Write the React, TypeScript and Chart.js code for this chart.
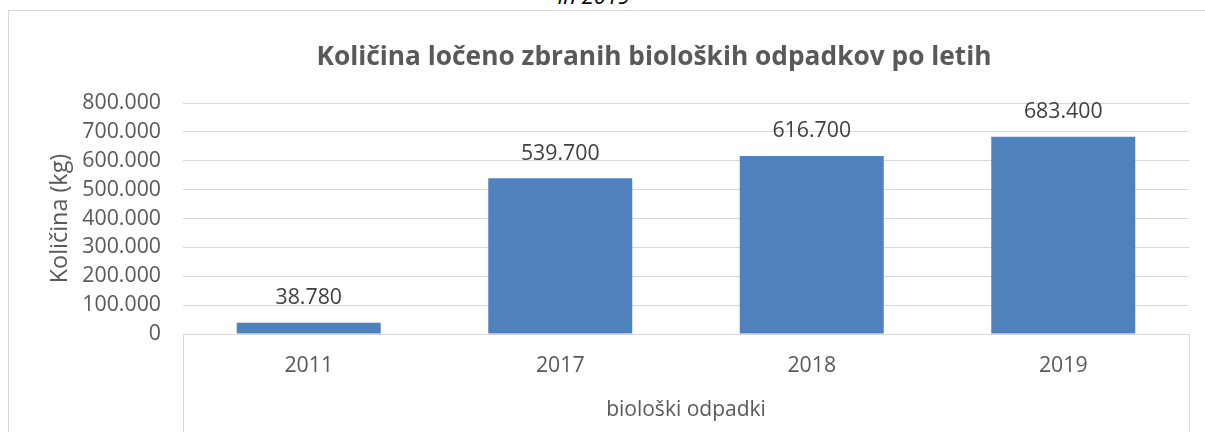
import React, { useEffect, useRef } from 'react';
import { Chart, registerables } from 'chart.js';

Chart.register(...registerables);

const categories = ['2011', '2017', '2018', '2019'];
const values = [38780, 539700, 616700, 683400];
const yMin = 0;
const yMax = 800000;
const yStep = 100000;
const chartTitle = 'Količina ločeno zbranih bioloških odpadkov po letih';
const yAxisTitle = 'Količina (kg)';
const groupLabel = 'biološki odpadki';
const headerText = 'in 2019';

const FONT = '"Open Sans", sans-serif';
const TEXT = '#595959';
const LABEL = '#404040';
const GRID = '#d9d9d9';
const BAR = '#4f81bd';
const FS = 21.3;

const fmt = (v: number) => String(Math.round(v)).replace(/\B(?=(\d{3})+(?!\d))/g, '.');

const titlePlugin = {
  id: 'customTitle',
  afterDraw(chart: any) {
    const ctx = chart.ctx;
    ctx.save();
    ctx.font = `bold 26.3px ${FONT}`;
    ctx.fillStyle = TEXT;
    ctx.textAlign = 'center';
    ctx.textBaseline = 'alphabetic';
    ctx.fillText(chartTitle, 654, 65);
    ctx.restore();
  },
};

const dataLabelPlugin = {
  id: 'dataLabels',
  afterDatasetsDraw(chart: any) {
    const ctx = chart.ctx;
    const meta = chart.getDatasetMeta(0);
    ctx.save();
    ctx.font = `${FS}px ${FONT}`;
    ctx.fillStyle = LABEL;
    ctx.textAlign = 'center';
    ctx.textBaseline = 'alphabetic';
    meta.data.forEach((bar: any, i: number) => {
      ctx.fillText(fmt(values[i]), bar.x, bar.y - 18.5);
    });
    ctx.restore();
  },
};

const groupLinesPlugin = {
  id: 'groupLines',
  afterDraw(chart: any) {
    const x = chart.scales.x;
    const ctx = chart.ctx;
    ctx.save();
    ctx.strokeStyle = GRID;
    ctx.lineWidth = 1;
    ctx.beginPath();
    const l = Math.round(x.left) + 0.5;
    const r = Math.round(x.right) + 0.5;
    ctx.moveTo(l, x.top);
    ctx.lineTo(l, chart.height);
    ctx.moveTo(r, x.top);
    ctx.lineTo(r, chart.height);
    ctx.stroke();
    ctx.restore();
  },
};

export default function App() {
  const ref = useRef<HTMLCanvasElement | null>(null);

  useEffect(() => {
    if (!ref.current) return;
    const chart = new Chart(ref.current, {
      type: 'bar',
      data: {
        labels: categories,
        datasets: [
          {
            data: values,
            backgroundColor: BAR,
            borderWidth: 0,
            categoryPercentage: 1,
            barPercentage: 0.5725,
          },
        ],
      },
      options: {
        animation: false,
        responsive: false,
        devicePixelRatio: 1,
        layout: { padding: { top: 103, right: 16, left: 0, bottom: 0 } },
        plugins: {
          legend: { display: false },
          tooltip: { enabled: false },
          title: { display: false },
        },
        scales: {
          x: {
            grid: { display: false, drawTicks: false },
            border: { display: true, color: GRID, width: 1 },
            ticks: { color: TEXT, font: { family: FONT, size: FS }, padding: 19 },
            title: {
              display: true,
              text: groupLabel,
              color: TEXT,
              font: { family: FONT, size: 21 },
              padding: { top: 0, bottom: 9.4 },
            },
            afterFit: (scale: any) => {
              scale.height = 98;
            },
          },
          y: {
            min: yMin,
            max: yMax,
            grid: { color: GRID, lineWidth: 1, drawTicks: false },
            border: { display: false },
            ticks: {
              stepSize: yStep,
              color: TEXT,
              font: { family: FONT, size: FS },
              padding: 22,
              callback: (v: any) => fmt(Number(v)),
            },
            title: {
              display: true,
              text: yAxisTitle,
              color: TEXT,
              font: { family: FONT, size: 23.4 },
              padding: { top: 46.5, bottom: 0 },
            },
            afterFit: (scale: any) => {
              scale.width = 183;
            },
          },
        },
      },
      plugins: [titlePlugin, dataLabelPlugin, groupLinesPlugin],
    });
    return () => chart.destroy();
  }, []);

  return (
    <div
      style={{
        position: 'fixed',
        left: 0,
        top: 0,
        width: 1205,
        height: 432,
        overflow: 'hidden',
        background: '#ffffff',
      }}
    >
      <div
        style={{
          position: 'absolute',
          left: 494,
          width: 200,
          top: -15,
          textAlign: 'center',
          fontFamily: FONT,
          fontStyle: 'italic',
          fontSize: 22,
          lineHeight: '20px',
          color: '#000000',
          whiteSpace: 'nowrap',
        }}
      >
        {headerText}
      </div>
      <div
        style={{
          position: 'absolute',
          left: 8,
          top: 10,
          width: 1250,
          height: 500,
          border: `1px solid ${GRID}`,
          boxSizing: 'border-box',
        }}
      />
      <canvas
        ref={ref}
        width={1205}
        height={432}
        style={{ position: 'absolute', left: 0, top: 0, width: 1205, height: 432 }}
      />
    </div>
  );
}
